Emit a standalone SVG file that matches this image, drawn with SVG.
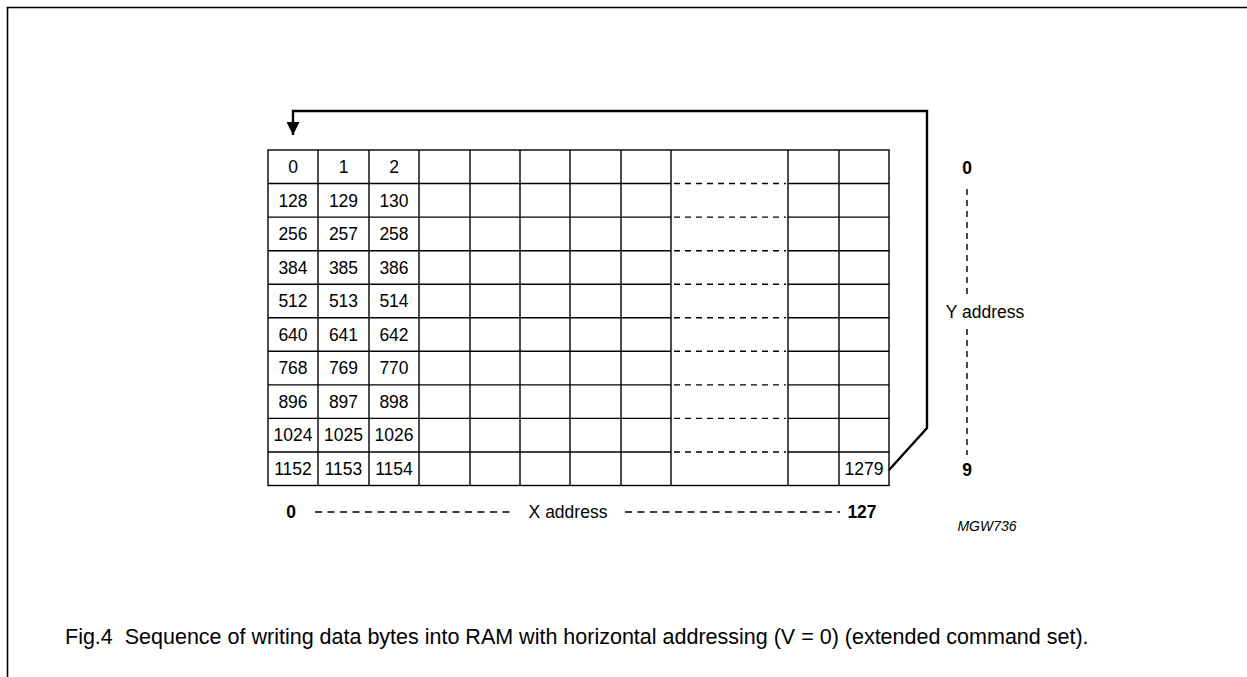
<svg xmlns="http://www.w3.org/2000/svg" width="1247" height="677" viewBox="0 0 1247 677">
<style>
.t{font-family:"Liberation Sans",Arial,sans-serif;font-size:17.5px;fill:#000;text-anchor:middle}
.b{font-weight:bold}
.g{stroke:#000;stroke-width:1.4;fill:none}
.d{stroke:#000;stroke-width:1.4;stroke-dasharray:6 5;fill:none}
.dx{stroke:#000;stroke-width:1.4;stroke-dasharray:7 5.5;fill:none}
</style>
<defs>
<marker id="ah" markerWidth="13" markerHeight="13" refX="6.5" refY="13" orient="0" markerUnits="userSpaceOnUse" viewBox="0 0 13 13">
<path d="M0,0 L13,0 L6.5,13 Z" fill="#000"/>
</marker>
</defs>
<rect width="1247" height="677" fill="#fff"/>
<g id="frame">
<path d="M7.5,677 V7.5 H1247" stroke="#000" stroke-width="1.6" fill="none"/>
</g>
<g id="grid">
<rect x="268" y="150" width="621" height="335.5" class="g"/>
<path class="g" d="M318,150V485.5M369,150V485.5M419,150V485.5M470,150V485.5M520,150V485.5M570,150V485.5M621,150V485.5M671,150V485.5M788,150V485.5M839,150V485.5"/>
<path class="g" d="M268,183.5H671M268,217.1H671M268,250.7H671M268,284.2H671M268,317.8H671M268,351.3H671M268,384.9H671M268,418.4H671M268,452H671M788,183.5H889M788,217.1H889M788,250.7H889M788,284.2H889M788,317.8H889M788,351.3H889M788,384.9H889M788,418.4H889M788,452H889"/>
<path class="d" d="M674,183.5H786M674,217.1H786M674,250.7H786M674,284.2H786M674,317.8H786M674,351.3H786M674,384.9H786M674,418.4H786M674,452H786"/>
<g class="t">
<text x="293" y="173">0</text><text x="343.5" y="173">1</text><text x="394" y="173">2</text>
<text x="293" y="206.5">128</text><text x="343.5" y="206.5">129</text><text x="394" y="206.5">130</text>
<text x="293" y="240">256</text><text x="343.5" y="240">257</text><text x="394" y="240">258</text>
<text x="293" y="273.6">384</text><text x="343.5" y="273.6">385</text><text x="394" y="273.6">386</text>
<text x="293" y="307.2">512</text><text x="343.5" y="307.2">513</text><text x="394" y="307.2">514</text>
<text x="293" y="340.7">640</text><text x="343.5" y="340.7">641</text><text x="394" y="340.7">642</text>
<text x="293" y="374.3">768</text><text x="343.5" y="374.3">769</text><text x="394" y="374.3">770</text>
<text x="293" y="407.8">896</text><text x="343.5" y="407.8">897</text><text x="394" y="407.8">898</text>
<text x="293" y="441.4">1024</text><text x="343.5" y="441.4">1025</text><text x="394" y="441.4">1026</text>
<text x="293" y="475">1152</text><text x="343.5" y="475">1153</text><text x="394" y="475">1154</text>
<text x="864" y="475">1279</text>
</g>
</g>
<g id="connectors">
<path d="M889,470 L927,428 V111 H293 V135" stroke="#000" stroke-width="2.4" fill="none" stroke-linejoin="miter" marker-end="url(#ah)"/>
</g>
<g id="y-axis">
<text class="t b" x="967" y="174">0</text>
<path class="d" d="M967,189V296M967,329V455"/>
<text class="t" x="985" y="318">Y address</text>
<text class="t b" x="967" y="476">9</text>
</g>
<g id="x-axis">
<text class="t b" x="291" y="518">0</text>
<path class="dx" d="M315,512H512M625,512H840"/>
<text class="t" x="568" y="518">X address</text>
<text class="t b" x="862" y="518">127</text>
</g>
<text x="987" y="531" style="font-family:'Liberation Sans',Arial,sans-serif;font-size:14px;font-style:italic;text-anchor:middle">MGW736</text>
<text x="65" y="644" xml:space="preserve" style="font-family:'Liberation Sans',Arial,sans-serif;font-size:21.5px;white-space:pre">Fig.4  Sequence of writing data bytes into RAM with horizontal addressing (V = 0) (extended command set).</text>
</svg>
